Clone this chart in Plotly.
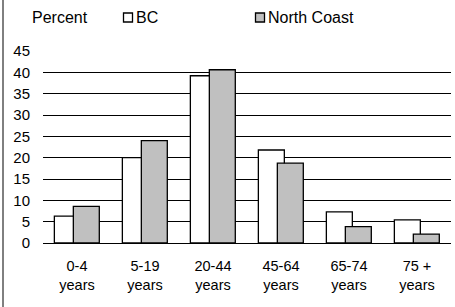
import plotly.graph_objects as go

categories = ["0-4<br>years", "5-19<br>years", "20-44<br>years", "45-64<br>years", "65-74<br>years", "75 +<br>years"]
bc_values = [6.3, 20.0, 39.2, 21.8, 7.3, 5.4]
north_coast_values = [8.6, 24.0, 40.6, 18.7, 3.85, 2.1]
y_ticks = [0, 5, 10, 15, 20, 25, 30, 35, 40, 45]
series_names = ["BC", "North Coast"]
series_fills = ["white", "#C0C0C0"]

FONT = "Liberation Sans, Arial, sans-serif"
xpos = list(range(len(categories)))

W, H = 455, 307
ml, mr, mt, mb = 43, 4, 51, 64
pw = W - ml - mr
ph = H - mt - mb


def px_x(px):
    return (px - ml) / pw


def px_y(py):
    return 1 + (mt - py) / ph


fig = go.Figure()
fig.add_trace(go.Bar(
    x=xpos, y=bc_values, name=series_names[0],
    width=0.382, offset=-0.333,
    marker=dict(color=series_fills[0], line=dict(color="black", width=1.3)),
))
fig.add_trace(go.Bar(
    x=xpos, y=north_coast_values, name=series_names[1],
    width=0.382, offset=-0.054,
    marker=dict(color=series_fills[1], line=dict(color="black", width=1.3)),
))

legend_y = 17.5
legend_sq_x = [123.5, 255.5]
shapes = [dict(
    type="line", xref="paper", yref="paper",
    x0=px_x(3), x1=px_x(3), y0=px_y(H + 10), y1=px_y(-10),
    line=dict(color="black", width=1),
)]
annotations = [dict(
    text="Percent", xref="paper", yref="paper",
    x=px_x(60), y=px_y(legend_y), xanchor="center", yanchor="middle",
    showarrow=False, font=dict(size=16),
)]
for name, fill, sx in zip(series_names, series_fills, legend_sq_x):
    shapes.append(dict(
        type="rect", xref="paper", yref="paper",
        x0=px_x(sx), x1=px_x(sx + 9), y0=px_y(legend_y + 4.5), y1=px_y(legend_y - 4.5),
        fillcolor=fill, line=dict(color="black", width=1.3),
    ))
    annotations.append(dict(
        text=name, xref="paper", yref="paper",
        x=px_x(sx + 10.5), y=px_y(legend_y), xanchor="left", yanchor="middle",
        showarrow=False, font=dict(size=16),
    ))

fig.update_layout(
    width=W, height=H,
    margin=dict(l=ml, r=mr, t=mt, b=mb, pad=0, autoexpand=False),
    barmode="overlay",
    plot_bgcolor="white", paper_bgcolor="white",
    font=dict(family=FONT, size=15, color="black"),
    showlegend=False,
    xaxis=dict(
        range=[-0.5, 5.5], tickmode="array", tickvals=xpos, ticktext=categories,
        showgrid=False, zeroline=False, showline=True, linecolor="black", linewidth=1,
        ticks="", tickfont=dict(size=14.5), automargin=False,
        ticklabelstandoff=10,
    ),
    yaxis=dict(
        range=[0, 45], tickmode="array", tickvals=y_ticks,
        showgrid=True, gridcolor="black", gridwidth=1,
        zeroline=False, showline=False, ticks="",
        ticklabelstandoff=12, tickfont=dict(size=15), automargin=False,
    ),
    annotations=annotations,
    shapes=shapes,
)

fig.write_html(
    "out.html",
    config={"displayModeBar": False, "staticPlot": True},
    post_script="document.body.style.margin='0';document.body.style.overflow='hidden';",
)
